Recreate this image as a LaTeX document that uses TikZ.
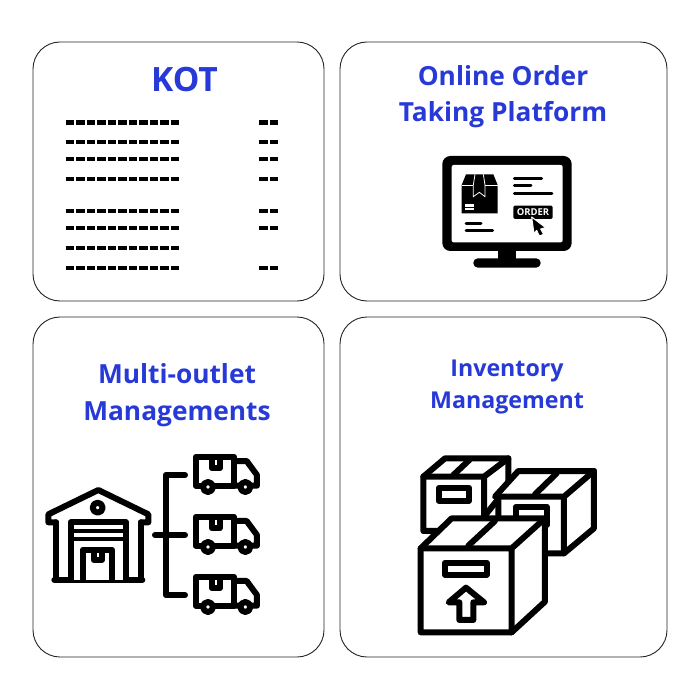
\documentclass[tikz,border=0pt]{standalone}
\usepackage{fontspec}
\setmainfont{Open Sans}
\definecolor{titleblue}{RGB}{39,57,214}
\tikzset{
  panel/.style={draw=black!85,line width=0.9pt,rounded corners=27pt,fill=white},
  title/.style={text=titleblue,font=\bfseries\fontsize{#1}{#1}\selectfont,anchor=base,inner sep=0pt},
  ink/.style={draw=black,line width=6pt,line join=round,line cap=round},
  icon/.style={shift={#1},x=0.3333pt,y=-0.3333pt},
  dashrow/.style={draw=black,line width=4.4pt,dash pattern=on 8.7pt off 1.8pt},
}
\newcommand{\truck}[1]{%
  \begin{scope}[shift={(0,#1)}]
    \draw[ink,fill=white] (482,36) -- (598,36) -- (598,122) -- (482,122) -- cycle;
    \draw[ink] (598,48) -- (635,48) -- (666,90) -- (666,122) -- (598,122);
    \draw[ink] (530,38) -- (530,70) -- (554,70) -- (554,38);
    \draw[ink,fill=white] (519,126) circle (15);
    \draw[ink,fill=white] (631,126) circle (15);
  \end{scope}}
\begin{document}
\begin{tikzpicture}[x=1pt,y=-1pt]
\useasboundingbox (0,0) rectangle (700,700);
\fill[white] (0,0) rectangle (700,700);
\draw[panel] (33,42) rectangle (324,301);
\draw[panel] (340,42) rectangle (667,301);
\draw[panel] (33,317) rectangle (324,657);
\draw[panel] (340,317) rectangle (667,657);

\node[title=33.5] (kot) at (184.5,92) {KOT};
\node[title=26.3] (online1) at (503,86) {Online Order};
\node[title=26.3] (online2) at (503,122) {Taking Platform};
\node[title=26.3] (multi1) at (177,383) {Multi-outlet};
\node[title=26.3] (multi2) at (177,420) {Managements};
\node[title=23.2] (inv1) at (507,376) {Inventory};
\node[title=23.2] (inv2) at (507,408) {Management};

% KOT rows
\foreach \y in {122.7,142,159,179,211,228,248,268}
  \draw[dashrow] (65.7,\y) -- (181,\y);
\foreach \y in {122.7,142,159,179,211,228,268}
  \draw[dashrow] (259,\y) -- (279.2,\y);

% Monitor
\begin{scope}[icon={(430,145)}]
  \fill[black,rounded corners=8pt] (37,33) rectangle (425,318);
  \fill[white,rounded corners=2pt] (65,60) rectangle (398,292);
  \fill[black] (205,315) rectangle (258,345);
  \fill[black,rounded corners=4.5pt] (130,340) rectangle (332,368);
  % parcel
  \fill[black] (108,88) -- (190,88) -- (203,120) -- (203,205) -- (95,205) -- (95,120) -- cycle;
  \draw[white,line width=0.8pt] (95,120) -- (130,120) (165,120) -- (203,120);
  \draw[white,line width=0.8pt] (135,88) -- (130,120) -- (130,155) -- (148,142) -- (165,155) -- (165,120) -- (160,88);
  \fill[white] (105,178) rectangle (133,196);
  \draw[black,line width=0.6pt] (105,187) -- (133,187);
  % text lines
  \draw[black,line width=3pt,line cap=round] (253,100) -- (335,100)
    (253,122) -- (303,122) (253,145) -- (366,145)
    (108,236) -- (153,236) (108,256) -- (188,256);
  \fill[black,rounded corners=1.5pt] (250,182) rectangle (368,222);
  \node[text=white,font=\bfseries\fontsize{9.5}{9.5}\selectfont,inner sep=0pt] (order) at (309,202) {ORDER};
  \draw[white,line width=1pt,fill=black,line join=round]
    (305,216) -- (347,248) -- (332,252) -- (341,268) -- (328,273) -- (320,256) -- (312,266) -- cycle;
\end{scope}

% Warehouse and trucks
\begin{scope}[icon={(35,445)}]
  \draw[ink] (63,232) -- (40,232) -- (40,208) -- (190,135) -- (340,208) -- (340,232) -- (318,232);
  \draw[ink] (63,232) -- (63,405) (318,232) -- (318,405);
  \draw[ink] (58,405) -- (322,405);
  \draw[ink,fill=white] (107,405) -- (107,232) -- (273,232) -- (273,405);
  \draw[black,line width=3.8pt] (107,259) -- (273,259);
  \draw[black,line width=4pt] (107,282) -- (273,282);
  \draw[ink] (143,405) -- (143,314) -- (232,314) -- (232,405);
  \draw[ink] (176,318) -- (176,345) -- (200,345) -- (200,318);
  \draw[ink] (188,188) circle (15);
  \draw[ink] (392,270) -- (392,90) -- (450,90);
  \draw[ink] (392,270) -- (392,450) -- (450,450);
  \draw[ink] (360,270) -- (450,270);
  \truck{0}
  \truck{180}
  \truck{360}
\end{scope}

% Boxes
\begin{scope}[icon={(410,445)}]
  % back left
  \draw[ink,fill=white] (40,95) -- (105,40) -- (295,40) -- (295,125) -- (222,215) -- (222,258) -- (40,258) -- cycle;
  \draw[ink] (40,95) -- (222,95) -- (295,40) (222,95) -- (222,258);
  \draw[ink] (130,90) -- (178,45);
  \draw[ink] (86,128) rectangle (177,167);
  % back right
  \draw[ink,fill=white] (255,155) -- (325,78) -- (552,78) -- (552,250) -- (462,325) -- (265,325) -- (265,155) -- cycle;
  \draw[ink] (258,155) -- (462,155) -- (552,78) (462,155) -- (462,325);
  \draw[ink] (375,148) -- (440,85);
  \draw[ink] (318,240) -- (318,185) -- (410,185) -- (410,240);
  % front
  \draw[ink,fill=white] (32,310) -- (125,220) -- (405,220) -- (405,470) -- (305,562) -- (32,562) -- cycle;
  \draw[ink] (32,310) -- (305,310) -- (405,220) (305,310) -- (305,562);
  \draw[ink] (175,302) -- (255,228);
  \draw[ink] (105,353) rectangle (230,389);
  \draw[ink] (168,428) -- (116,472) -- (148,472) -- (148,525) -- (190,525) -- (190,472) -- (222,472) -- cycle;
\end{scope}
\end{tikzpicture}
\end{document}
